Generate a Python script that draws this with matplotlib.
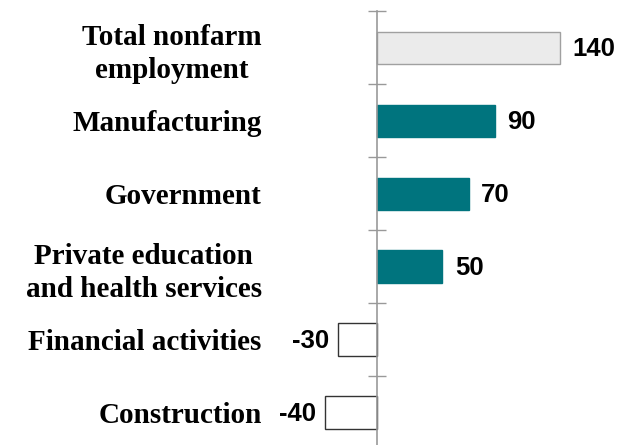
import matplotlib
matplotlib.use("Agg")
import matplotlib.pyplot as plt
import numpy as np

# Job change by sector (thousands)
categories = ["Total nonfarm\nemployment", "Manufacturing", "Government",
              "Private education\nand health services", "Financial activities",
              "Construction"]
values = [140, 90, 70, 50, -30, -40]
value_labels = ["140", "90", "70", "50", "-30", "-40"]
face_colors = ["#ebebeb", "#00747e", "#00747e", "#00747e", "white", "white"]
edge_colors = ["#a0a0a0", "#00747e", "#00747e", "#00747e", "#333333", "#333333"]

fig = plt.figure(figsize=(6.29, 4.45), dpi=100)
ax = fig.add_axes([0.4747, -0.009, 0.478, 0.984])

y = np.arange(len(categories))
ax.barh(y, values, height=0.44, color=face_colors, edgecolor=edge_colors,
        linewidth=1.0, zorder=2)

ax.set_xlim(-60, 170)
ax.set_ylim(len(categories) - 0.5, -0.5)

# value labels
for yi, v, lab in zip(y, values, value_labels):
    if v >= 0:
        ax.annotate(lab, (v, yi), xytext=(9, -1), textcoords="offset points",
                    ha="left", va="center", fontsize=18.5, fontweight="bold",
                    family="Liberation Sans")
    else:
        ax.annotate(lab, (v, yi), xytext=(-6, -1), textcoords="offset points",
                    ha="right", va="center", fontsize=18.5, fontweight="bold",
                    family="Liberation Sans")

# axis styling
for side in ["top", "right", "bottom"]:
    ax.spines[side].set_visible(False)
ax.spines["left"].set_position(("data", 0))
ax.spines["left"].set_color("#999999")
ax.spines["left"].set_linewidth(1.2)
ax.spines["left"].set_zorder(3)

ax.set_xticks([])
ax.set_yticks(y)
ax.set_yticklabels(categories, fontsize=21, fontweight="bold",
                   family="Liberation Serif", multialignment="center",
                   linespacing=1.3)
ax.tick_params(axis="y", which="major", length=0, pad=83)
ax.set_yticks(np.arange(-0.5, len(categories)), minor=True)
ax.tick_params(axis="y", which="minor", length=13, direction="inout",
               color="#999999", width=1.0)

fig.savefig("out.png", dpi=100)
